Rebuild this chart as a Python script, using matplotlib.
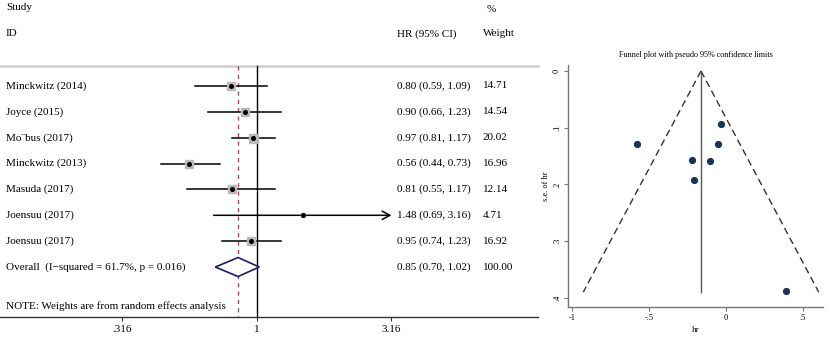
import numpy as np
import matplotlib
matplotlib.use("Agg")
import matplotlib.pyplot as plt
from matplotlib.patches import Polygon
import matplotlib.transforms as mtransforms

plt.rcParams['font.family'] = ['Liberation Serif', 'DejaVu Serif']

studies = ["Minckwitz (2014)", "Joyce (2015)", "Mo\u00a8bus (2017)", "Minckwitz (2013)",
           "Masuda (2017)", "Joensuu (2017)", "Joensuu (2017)"]
hr = [0.80, 0.90, 0.97, 0.56, 0.81, 1.48, 0.95]
lo = [0.59, 0.66, 0.81, 0.44, 0.55, 0.69, 0.74]
hi = [1.09, 1.23, 1.17, 0.73, 1.17, 3.16, 1.23]
weights = [14.71, 14.54, 20.02, 16.96, 12.14, 4.71, 16.92]
overall_hr, overall_lo, overall_hi = 0.85, 0.70, 1.02
overall_label = "Overall  (I\u2212squared = 61.7%, p = 0.016)"
note = "NOTE: Weights are from random effects analysis"
x_ticks = [0.316, 1, 3.16]
x_ticklabels = [".316", "1", "3.16"]

funnel_xticks = [-1, -0.5, 0, 0.5]
funnel_xticklabels = ["-1", "-.5", "0", ".5"]
funnel_yticks = [0, 0.1, 0.2, 0.3, 0.4]
funnel_yticklabels = ["0", ".1", ".2", ".3", ".4"]

W, H = 830, 338
fig = plt.figure(figsize=(W / 100, H / 100), dpi=100)

# ---------------- Forest plot ----------------
axf = fig.add_axes([0, (H - 317) / H, 538 / W, 317 / H])
axf.set_xscale('log')
axf.set_xlim(10 ** ((0 - 257) / 269), 10 ** ((538 - 257) / 269))
pitch = 25.86
axf.set_ylim((317 - 86) / pitch, (0 - 86) / pitch)
for s in ['top', 'right', 'left']:
    axf.spines[s].set_visible(False)
axf.spines['bottom'].set_color('#333333')
axf.spines['bottom'].set_linewidth(1.0)
axf.set_yticks([])
axf.set_xticks(x_ticks)
axf.set_xticklabels(x_ticklabels, fontsize=8)
axf.minorticks_off()
axf.tick_params(axis='x', length=3, width=0.8, colors='#333333', labelcolor='black', pad=3)

tr = mtransforms.blended_transform_factory(axf.transAxes, axf.transData)
fs = 8
header_y = (66 - 86) / pitch
axf.plot([0, 1], [header_y, header_y], transform=tr, color='#d0d0d0', lw=1.8, clip_on=False)
axf.text(0.011, (8 - 86) / pitch, "Study", transform=tr, fontsize=fs, va='center')
axf.text(0.011, (34 - 86) / pitch, "ID", transform=tr, fontsize=fs, va='center')
axf.text(397 / 538, (34 - 86) / pitch, "HR (95% CI)", transform=tr, fontsize=fs, va='center')
axf.text(487 / 538, (9 - 86) / pitch, "%", transform=tr, fontsize=fs, va='center')
axf.text(483 / 538, (34 - 86) / pitch, "Weight", transform=tr, fontsize=fs, va='center')

ybot = (317 - 86) / pitch
axf.plot([1, 1], [header_y, ybot], color='black', lw=1.0)
axf.plot([overall_hr, overall_hr], [header_y, ybot], color='#a05060', lw=1.0, ls=(0, (3, 3)))

xmax_clip = 3.16
for i, (name, h, l, u, w) in enumerate(zip(studies, hr, lo, hi, weights)):
    if u >= xmax_clip:
        axf.annotate('', xy=(u, i), xytext=(l, i),
                     arrowprops=dict(arrowstyle='->,head_length=0.55,head_width=0.3',
                                     lw=1.1, color='black', shrinkA=0, shrinkB=0))
    else:
        axf.plot([l, u], [i, i], color='black', lw=1.1)
    side = 9 * np.sqrt(w / 20.02) * 0.72
    axf.plot(h, i, marker='s', ms=side, color='#bababa', mec='#bababa', zorder=3)
    axf.plot(h, i, marker='o', ms=2.6, color='black', zorder=4)
    axf.text(0.011, i, name, transform=tr, fontsize=fs, va='center')
    axf.text(397 / 538, i, f"{h:.2f} ({l:.2f}, {u:.2f})", transform=tr, fontsize=fs, va='center')
    axf.text(483 / 538, i, f"{w:.2f}", transform=tr, fontsize=fs, va='center')

io = len(studies)
dh = 9.5 / pitch
diamond = Polygon([(overall_lo, io), (overall_hr, io - dh), (overall_hi, io), (overall_hr, io + dh)],
                  closed=True, facecolor='white', edgecolor='#1c1c6a', lw=1.2, zorder=5)
axf.add_patch(diamond)
axf.text(0.011, io, overall_label, transform=tr, fontsize=fs, va='center')
axf.text(397 / 538, io, f"{overall_hr:.2f} ({overall_lo:.2f}, {overall_hi:.2f})",
         transform=tr, fontsize=fs, va='center')
axf.text(483 / 538, io, f"{sum(weights):.2f}", transform=tr, fontsize=fs, va='center')
axf.text(0.011, (306 - 86) / pitch, note, transform=tr, fontsize=fs, va='center')

# ---------------- Funnel plot ----------------
log_hr = np.log(hr)
se = (np.log(hi) - np.log(lo)) / (2 * 1.96)
theta = np.log(overall_hr)
se_max = 0.39

axp = fig.add_axes([568 / W, (H - 307) / H, 255 / W, 242 / H])
axp.set_xlim((568 - 726) / 154, (823 - 726) / 154)
axp.set_ylim((307 - 71) / 567, (65 - 71) / 567)
for s in ['top', 'right']:
    axp.spines[s].set_visible(False)
for s in ['left', 'bottom']:
    axp.spines[s].set_color('#777777')
    axp.spines[s].set_linewidth(1.0)
axp.plot([theta, theta - 1.96 * se_max], [0, se_max], color='#333333', lw=1.0, ls=(0, (5, 3)))
axp.plot([theta, theta + 1.96 * se_max], [0, se_max], color='#333333', lw=1.0, ls=(0, (5, 3)))
axp.plot([theta, theta], [0, se_max], color='#555555', lw=1.0)
axp.plot(log_hr, se, 'o', ms=4.2, color='#1a3358', zorder=3)
axp.set_xticks(funnel_xticks)
axp.set_xticklabels(funnel_xticklabels, fontsize=6)
axp.set_yticks(funnel_yticks)
axp.set_yticklabels(funnel_yticklabels, fontsize=6, rotation=90, va='center')
axp.tick_params(length=3, width=0.8, colors='#777777', labelcolor='black', pad=2)
axp.set_xlabel("hr", fontsize=6.5, labelpad=3)
axp.set_ylabel("s.e. of hr", fontsize=6, labelpad=2)
axp.set_title("Funnel plot with pseudo 95% confidence limits", fontsize=5.9, pad=6)

fig.savefig("out.png", dpi=100)
